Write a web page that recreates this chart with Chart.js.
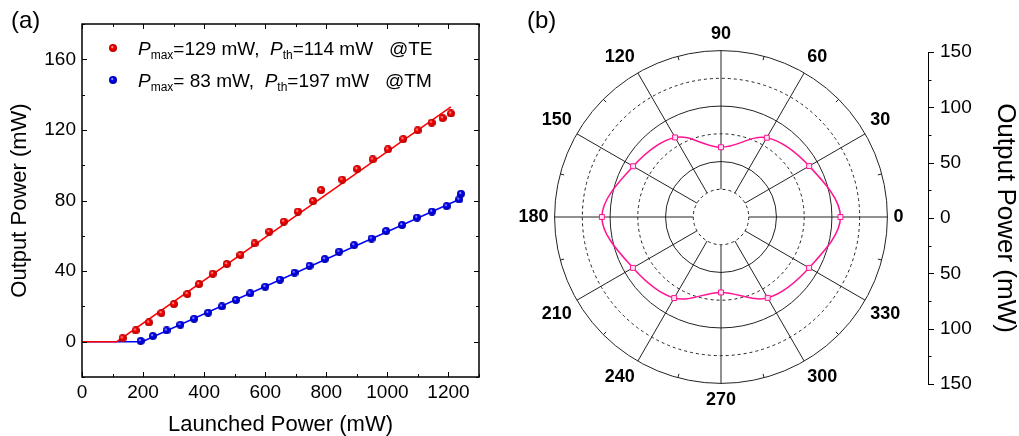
<!DOCTYPE html>
<html>
<head>
<meta charset="utf-8">
<script src="https://cdn.jsdelivr.net/npm/chart.js@4.4.1/dist/chart.umd.min.js"></script>
<style>
  html, body { margin: 0; padding: 0; background: #fff; }
  body { width: 1019px; height: 436px; position: relative; overflow: hidden; }
  canvas { position: absolute; }
</style>
</head>
<body>
<canvas id="power" width="560" height="436" style="left:0;top:0"></canvas>
<canvas id="polar" width="464" height="388" style="left:489px;top:24px"></canvas>
<canvas id="side" width="119" height="436" style="left:900px;top:0"></canvas>
<script>
// (a) output vs launched power
const teLaunched = [133, 176, 219, 260, 301, 345, 383, 428, 474, 519, 565, 613, 661, 707, 757, 783, 852, 901, 952, 1002, 1052, 1099, 1145, 1181, 1208];
const teOutput = [2.0, 6.4, 10.9, 16.2, 21.3, 27.0, 32.6, 38.5, 44.0, 49.1, 55.7, 62.3, 68.0, 73.7, 79.7, 85.9, 91.8, 97.8, 103.3, 109.0, 114.8, 119.7, 124.1, 126.7, 129.3];
const tmLaunched = [192, 232, 277, 322, 367, 413, 458, 504, 551, 600, 648, 696, 745, 795, 842, 891, 948, 996, 1048, 1097, 1146, 1194, 1235, 1241];
const tmOutput = [0.4, 3.2, 6.4, 9.6, 13.0, 16.4, 20.0, 23.6, 27.4, 31.1, 35.1, 39.1, 43.0, 46.8, 51.0, 54.7, 58.4, 62.7, 66.1, 70.3, 73.7, 76.8, 80.6, 83.8];
const teFitX = [0, 114, 1208];
const teFitY = [0, 0, 133];
const tmFitX = [0, 197, 1240];
const tmFitY = [0, 0, 81];

// (b) polar plot, angles listed clockwise from the top
const polarAngles = ['90', '60', '30', '0', '330', '300', '270', '240', '210', '180', '150', '120'];
const polarPower = [62.9, 82.5, 91.8, 107.7, 91.7, 84.2, 68.0, 84.4, 91.7, 107.4, 91.5, 82.8];

const FONT = "'Liberation Sans', Arial, sans-serif";
const RED = 'rgb(255,0,0)';
const BLUE = 'rgb(0,0,255)';
const PINK = '#ff1493';

const pairs = (xs, ys) => xs.map((x, i) => ({x: x, y: ys[i]}));

function sphere(color, dark, d) {
  const c = document.createElement('canvas');
  c.width = d; c.height = d;
  const g = c.getContext('2d');
  const r = d / 2;
  const grad = g.createRadialGradient(r * 0.75, r * 0.7, 0, r, r, r);
  grad.addColorStop(0, '#ffffff');
  grad.addColorStop(0.35, color);
  grad.addColorStop(1, dark);
  g.fillStyle = grad;
  g.beginPath();
  g.arc(r, r, r, 0, Math.PI * 2);
  g.fill();
  return c;
}
const redBall = sphere(RED, '#b00000', 8);
const blueBall = sphere(BLUE, '#0000a0', 8);

function legendRow(ctx, x0, base, ball, pmax, pth, mode) {
  ctx.drawImage(ball, x0 - ball.width / 2, base - 7 - ball.height / 2);
  const parts = [
    ['P', 'italic 19px ' + FONT, 0],
    ['max', '12px ' + FONT, 4],
    ['=' + pmax + ' mW,  ', '19px ' + FONT, 0],
    ['P', 'italic 19px ' + FONT, 0],
    ['th', '12px ' + FONT, 4],
    ['=' + pth + ' mW   @' + mode, '19px ' + FONT, 0]
  ];
  let x = x0 + 25;
  parts.forEach(p => {
    ctx.font = p[1];
    ctx.fillText(p[0], x, base + p[2]);
    x += ctx.measureText(p[0]).width;
  });
}

const frame = {
  id: 'frame',
  afterDraw(chart) {
    const {ctx, chartArea: a, scales: {x, y}} = chart;
    ctx.save();
    ctx.strokeStyle = '#000';
    ctx.lineWidth = 1.5;
    ctx.strokeRect(a.left, a.top, a.right - a.left, a.bottom - a.top);
    ctx.lineWidth = 1;
    ctx.beginPath();
    x.ticks.forEach(t => {
      const px = Math.round(x.getPixelForValue(t.value)) + 0.5;
      const len = t.value % 200 === 0 ? 5 : 3;
      ctx.moveTo(px, a.bottom); ctx.lineTo(px, a.bottom - len);
      ctx.moveTo(px, a.top); ctx.lineTo(px, a.top + len);
    });
    y.ticks.forEach(t => {
      const py = Math.round(y.getPixelForValue(t.value)) + 0.5;
      const len = t.value % 40 === 0 ? 5 : 3;
      ctx.moveTo(a.left, py); ctx.lineTo(a.left + len, py);
      ctx.moveTo(a.right, py); ctx.lineTo(a.right - len, py);
    });
    ctx.stroke();

    ctx.fillStyle = '#000';
    ctx.textBaseline = 'alphabetic';
    ctx.textAlign = 'left';
    legendRow(ctx, a.left + 31, a.top + 31, redBall, '129', '114', 'TE');
    legendRow(ctx, a.left + 31, a.top + 63, blueBall, ' 83', '197', 'TM');

    ctx.font = '24px ' + FONT;
    ctx.fillText('(a)', 11, 28);
    ctx.fillText('(b)', 527, 28);
    ctx.restore();
  }
};

new Chart(document.getElementById('power'), {
  type: 'scatter',
  data: {
    datasets: [
      {label: 'TE', data: pairs(teLaunched, teOutput), pointStyle: redBall, pointRadius: 4},
      {label: 'TM', data: pairs(tmLaunched, tmOutput), pointStyle: blueBall, pointRadius: 4},
      {label: 'TE fit', data: pairs(teFitX, teFitY), showLine: true, borderColor: RED, borderWidth: 1.5, pointRadius: 0},
      {label: 'TM fit', data: pairs(tmFitX, tmFitY), showLine: true, borderColor: BLUE, borderWidth: 1.5, pointRadius: 0}
    ]
  },
  options: {
    responsive: false,
    animation: false,
    layout: {padding: {top: 24, right: 81, left: 0, bottom: 0}},
    plugins: {legend: {display: false}, tooltip: {enabled: false}},
    scales: {
      x: {
        type: 'linear', min: 0, max: 1300,
        grid: {display: false, drawTicks: false},
        border: {display: false},
        ticks: {stepSize: 100, autoSkip: false, maxRotation: 0, padding: 4, color: '#000',
          font: {family: FONT, size: 19},
          callback: v => v % 200 === 0 ? v : ''},
        title: {display: true, text: 'Launched Power (mW)', color: '#000',
          font: {family: FONT, size: 22, lineHeight: 1}, padding: 0},
        afterFit: s => { s.height = 59; }
      },
      y: {
        min: -20, max: 180,
        grid: {display: false, drawTicks: false},
        border: {display: false},
        ticks: {stepSize: 20, autoSkip: false, padding: 6, color: '#000',
          font: {family: FONT, size: 19},
          callback: v => v % 40 === 0 ? v : ''},
        title: {display: true, text: 'Output Power (mW)', color: '#000',
          font: {family: FONT, size: 22, lineHeight: 1}, padding: {top: 9, bottom: 0}},
        afterFit: s => { s.width = 82; }
      }
    }
  },
  plugins: [frame]
});

const spokes = {
  id: 'spokes',
  beforeDatasetsDraw(chart) {
    const r = chart.scales.r;
    const ctx = chart.ctx;
    ctx.save();
    ctx.strokeStyle = '#222';
    ctx.lineWidth = 1;
    ctx.beginPath();
    for (let i = 0; i < chart.data.labels.length; i++) {
      const p0 = r.getPointPositionForValue(i, 25);
      const p1 = r.getPointPositionForValue(i, 150);
      ctx.moveTo(p0.x, p0.y); ctx.lineTo(p1.x, p1.y);
      const q0 = r.getPointPosition(i, r.drawingArea, Math.PI / 12);
      const q1 = r.getPointPosition(i, r.drawingArea - 4, Math.PI / 12);
      ctx.moveTo(q0.x, q0.y); ctx.lineTo(q1.x, q1.y);
    }
    ctx.stroke();
    ctx.restore();
  }
};

new Chart(document.getElementById('polar'), {
  type: 'radar',
  data: {
    labels: polarAngles,
    datasets: [{
      data: polarPower,
      borderColor: PINK, borderWidth: 1.5, tension: 0.35, fill: false,
      pointStyle: 'rect', pointRadius: 3.5, pointBorderWidth: 1,
      pointBorderColor: PINK, pointBackgroundColor: '#ffe0f0'
    }]
  },
  options: {
    responsive: false,
    animation: false,
    plugins: {legend: {display: false}, tooltip: {enabled: false}},
    scales: {
      r: {
        min: 0, max: 150,
        ticks: {display: false, stepSize: 25},
        angleLines: {display: false},
        grid: {color: '#222', lineWidth: 1, circular: true},
        border: {dash: c => (c.tick && c.tick.value % 50) ? [3, 3] : []},
        pointLabels: {padding: 6, color: '#000', font: {family: FONT, size: 18, weight: 'bold'}}
      }
    }
  },
  plugins: [spokes]
});

const sideTicks = {
  id: 'sideTicks',
  afterDraw(chart) {
    const y = chart.scales.y;
    const ctx = chart.ctx;
    ctx.save();
    ctx.strokeStyle = '#000';
    ctx.lineWidth = 1;
    ctx.beginPath();
    y.ticks.forEach(t => {
      const py = Math.round(y.getPixelForValue(t.value)) + 0.5;
      const len = t.value % 50 === 0 ? 6 : 3.5;
      ctx.moveTo(y.left, py); ctx.lineTo(y.left + len, py);
    });
    ctx.stroke();
    ctx.restore();
  }
};

new Chart(document.getElementById('side'), {
  type: 'line',
  data: {labels: [], datasets: []},
  options: {
    responsive: false,
    animation: false,
    layout: {padding: {top: 52, bottom: 52, left: 0, right: 0}},
    plugins: {legend: {display: false}, tooltip: {enabled: false}},
    scales: {
      x: {display: false},
      y: {
        position: 'right', min: -150, max: 150,
        grid: {display: false, drawTicks: false},
        border: {display: true, color: '#000', width: 1},
        ticks: {stepSize: 25, autoSkip: false, padding: 12, color: '#000',
          font: {family: FONT, size: 19},
          callback: v => v % 50 === 0 ? Math.abs(v) : ''},
        title: {display: true, text: 'Output Power (mW)', color: '#000',
          font: {family: FONT, size: 26, lineHeight: 1}, padding: {top: 1, bottom: 0}},
        afterFit: s => { s.width = 91; }
      }
    }
  },
  plugins: [sideTicks]
});
</script>
</body>
</html>
